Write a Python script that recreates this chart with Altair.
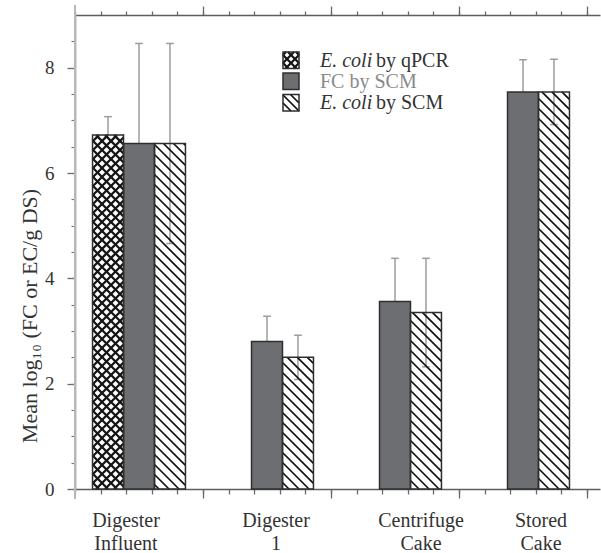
import altair as alt
import numpy as np
import pandas as pd

# ---- data -------------------------------------------------------------
sites = ["Digester Influent", "Digester 1", "Centrifuge Cake", "Stored Cake"]
site_lines = [["Digester", "Influent"], ["Digester", "1"], ["Centrifuge", "Cake"], ["Stored", "Cake"]]
methods = ["E. coli by qPCR", "FC by SCM", "E. coli by SCM"]

# mean log10 (FC or EC / g DS) and standard deviation; None = not measured
qpcr_mean = [6.72, None, None, None]
qpcr_sd = [0.35, None, None, None]
fc_mean = [6.56, 2.80, 3.56, 7.54]
fc_sd = [1.90, 0.48, 0.82, 0.61]
ec_mean = [6.56, 2.50, 3.35, 7.54]
ec_sd = [1.90, 0.42, 1.03, 0.62]

y_major = [0, 2, 4, 6, 8]

# ---- geometry & style ---------------------------------------------------
W, H = 525, 474
X_MAX = W / 128.0
Y_MAX = 9.0
PX_X = W / X_MAX
PX_Y = H / Y_MAX
BAR_W = 0.242
SERIF = "Liberation Serif"
INK = "#2e2e2e"
FC_FILL = "#6d6e72"
ERR = "#9c9c9c"
AX = "#5e5e5e"
SPINE = "#b8b8b8"

rows = []
for j, (means, sds) in enumerate([(qpcr_mean, qpcr_sd), (fc_mean, fc_sd), (ec_mean, ec_sd)]):
    for i, site in enumerate(sites):
        if means[i] is None:
            continue
        xc = i + 0.5 + (j - 1) * BAR_W
        rows.append(dict(site=site, method=methods[j], mean=means[i], sd=sds[i],
                         xc=xc, x0=xc - BAR_W / 2, x1=xc + BAR_W / 2,
                         lo=means[i] - sds[i], hi=means[i] + sds[i], zero=0.0,
                         c0=xc - 0.03, c1=xc + 0.03))
bars = pd.DataFrame(rows)


def hatch(x0, x1, y0, y1, step, direction):
    """Diagonal line segments filling a rectangle given in data units."""
    px0, px1 = x0 * PX_X, x1 * PX_X
    ptop, pbot = H - y1 * PX_Y, H - y0 * PX_Y
    segs = []
    if direction == "down":  # "\" lines: py = px + c
        cmin, cmax = ptop - px1, pbot - px0
        k = np.ceil(cmin / step)
        while k * step < cmax:
            c = k * step
            a, b = max(px0, ptop - c), min(px1, pbot - c)
            if b > a + 0.3:
                segs.append((a, a + c, b, b + c))
            k += 1
    else:  # "/" lines: py = c - px
        cmin, cmax = ptop + px0, pbot + px1
        k = np.ceil(cmin / step)
        while k * step < cmax:
            c = k * step
            a, b = max(px0, c - pbot), min(px1, c - ptop)
            if b > a + 0.3:
                segs.append((a, c - a, b, c - b))
            k += 1
    return [dict(x=a / PX_X, y=(H - pa) / PX_Y, x2=b / PX_X, y2=(H - pb) / PX_Y)
            for a, pa, b, pb in segs]


# legend boxes (pixel layout inside the plot area -> data units)
leg_left, leg_w, leg_h = 208, 16, 16.5
leg_tops = [37, 58, 79.5]
legend = pd.DataFrame([
    dict(method=m, x0=leg_left / PX_X, x1=(leg_left + leg_w) / PX_X,
         y1=(H - t) / PX_Y, y0=(H - t - leg_h) / PX_Y)
    for m, t in zip(methods, leg_tops)
])

# pattern strokes for the qPCR (cross-hatch) and E. coli SCM (diagonal) boxes
diag, cross = [], []
for r in bars.itertuples():
    if r.method == methods[2]:
        diag += hatch(r.x0, r.x1, 0.0, r.mean, 10.0, "down")
    elif r.method == methods[0]:
        cross += hatch(r.x0, r.x1, 0.0, r.mean, 9.0, "down") + hatch(r.x0, r.x1, 0.0, r.mean, 9.0, "up")
for r in legend.itertuples():
    if r.method == methods[2]:
        diag += hatch(r.x0, r.x1, r.y0, r.y1, 8.0, "down")
    elif r.method == methods[0]:
        cross += hatch(r.x0, r.x1, r.y0, r.y1, 8.0, "down") + hatch(r.x0, r.x1, r.y0, r.y1, 8.0, "up")
diag = pd.DataFrame(diag)
cross = pd.DataFrame(cross)

xs = alt.Scale(domain=[0, X_MAX], nice=False, zero=False)
ys = alt.Scale(domain=[0, Y_MAX], nice=False, zero=False)

x_minor = [round(v, 1) for v in np.arange(0, X_MAX, 0.2)]
x_major = [1, 2, 3, 4]
y_minor = [v / 2 for v in range(0, 18)]

common_x = dict(labels=False, title=None, grid=False, tickColor="#6a6a6a", tickWidth=1.3)
ax_bottom_major = alt.Axis(orient="bottom", values=x_major, tickSize=9, domain=False, **common_x)
ax_bottom_minor = alt.Axis(orient="bottom", values=x_minor, tickSize=5,
                           domainColor=AX, domainWidth=1.5, **common_x)
ax_top_major = alt.Axis(orient="top", values=x_major, tickSize=9, domain=False, **common_x)
ax_top_minor = alt.Axis(orient="top", values=x_minor, tickSize=4,
                        domainColor=AX, domainWidth=1.5, **common_x)

ax_left_major = alt.Axis(
    orient="left", values=y_major, tickSize=8, title=None, grid=False,
    tickColor="#6a6a6a", tickWidth=1.3, domainColor=SPINE, domainWidth=2,
    labelFont=SERIF, labelFontSize=19, labelColor="#333333", labelPadding=13,
)
ax_left_minor = alt.Axis(
    orient="left", values=y_minor, tickSize=4, title=None, grid=False, labels=False,
    tickColor="#7a7a7a", tickWidth=1.2, domain=False,
)


def X(field, axis=None):
    return alt.X(field, type="quantitative", scale=xs, axis=axis)


def Y(field, axis=None):
    return alt.Y(field, type="quantitative", scale=ys, axis=axis)


# the left spine runs a little past both horizontal axes
spine = alt.Chart(pd.DataFrame(dict(x=[0.0], lo=[-10 / PX_Y], hi=[Y_MAX + 10 / PX_Y]))).mark_rule(
    color=SPINE, strokeWidth=2).encode(x=X("x"), y=Y("lo"), y2="hi")

# error bars, drawn first so solid fills hide their lower halves
err = alt.Chart(bars).mark_rule(color=ERR, strokeWidth=1.5).encode(
    x=X("xc", ax_top_major), y=Y("lo", ax_left_major), y2="hi")
caps_hi = alt.Chart(bars).mark_rule(color=ERR, strokeWidth=1.5).encode(
    x=X("c0", ax_top_minor), x2="c1", y=Y("hi", ax_left_minor))
caps_lo = alt.Chart(bars).mark_rule(color=ERR, strokeWidth=1.5).encode(
    x=X("c0", ax_bottom_minor), x2="c1", y=Y("lo"))

fill_fc = alt.Chart(bars[bars.method == methods[1]]).mark_rect(color=FC_FILL).encode(
    x=X("x0"), x2="x1", y=Y("mean"), y2="zero")
fill_q = alt.Chart(bars[bars.method == methods[0]]).mark_rect(color="white").encode(
    x=X("x0"), x2="x1", y=Y("mean"), y2="zero")

leg_fill = alt.Chart(legend).mark_rect().encode(
    x=X("x0"), x2="x1", y=Y("y0"), y2="y1",
    color=alt.Color("method:N", scale=alt.Scale(domain=methods, range=["white", FC_FILL, "white"]),
                    legend=None))

diag_lines = alt.Chart(diag).mark_rule(color="#111111", strokeWidth=1.7).encode(
    x=X("x"), x2="x2", y=Y("y"), y2="y2")
cross_lines = alt.Chart(cross).mark_rule(color="#151515", strokeWidth=2.3).encode(
    x=X("x"), x2="x2", y=Y("y"), y2="y2")

outline = alt.Chart(bars).mark_rect(fillOpacity=0, stroke=INK, strokeWidth=1.5).encode(
    x=X("x0", ax_bottom_major), x2="x1", y=Y("mean"), y2="zero")
leg_outline = alt.Chart(legend).mark_rect(fillOpacity=0, stroke=INK, strokeWidth=1.5).encode(
    x=X("x0"), x2="x1", y=Y("y0"), y2="y1")

# legend text: italic species name followed by the regular part
leg_text_x = 245
leg_rows = pd.DataFrame(dict(
    ital=["E. coli", "", "E. coli"],
    rest=["by qPCR", "FC by SCM", "by SCM"],
    color=["#333333", "#8a8a8a", "#333333"],
    xi=[leg_text_x / PX_X] * 3,
    xr=[(leg_text_x + 56) / PX_X, leg_text_x / PX_X, (leg_text_x + 56) / PX_X],
    y=[(H - t - leg_h / 2 - 0.5) / PX_Y for t in leg_tops],
))
leg_ital = alt.Chart(leg_rows).mark_text(
    font=SERIF, fontSize=20, fontStyle="italic", align="left", baseline="middle"
).encode(x=X("xi"), y=Y("y"), text="ital:N", color=alt.Color("color:N", scale=None))
leg_reg = alt.Chart(leg_rows).mark_text(
    font=SERIF, fontSize=20, align="left", baseline="middle"
).encode(x=X("xr"), y=Y("y"), text="rest:N", color=alt.Color("color:N", scale=None))

# category labels under the axis
label_dx = [-13, 9, 26, 18]
cat = pd.DataFrame(dict(
    lines=site_lines,
    x=[(i + 0.5) + dx / PX_X for i, dx in enumerate(label_dx)],
    y=[-(527 - 15 - H) / PX_Y] * 4,
))
cat_text = alt.Chart(cat).mark_text(
    font=SERIF, fontSize=20, color="#333333", align="center", baseline="alphabetic", lineHeight=23
).encode(x=X("x"), y=Y("y"), text="lines")

ytitle = alt.Chart(pd.DataFrame(dict(t=["Mean log\u2081\u2080 (FC or EC/g DS)"],
                                     x=[-45 / PX_X], y=[(H - 301) / PX_Y]))).mark_text(
    font=SERIF, fontSize=22, color="#333333", angle=270, align="center", baseline="middle"
).encode(x=X("x"), y=Y("y"), text="t")

chart = alt.layer(
    spine, err, caps_hi, caps_lo, fill_fc, fill_q, leg_fill, diag_lines, cross_lines,
    outline, leg_outline, leg_ital, leg_reg, cat_text, ytitle,
).resolve_axis(x="independent", y="independent").properties(
    width=W, height=H,
    autosize=alt.AutoSizeParams(type="none"),
    padding={"left": 75, "top": 15, "right": 1, "bottom": 64},
    background="white",
).configure_view(stroke=None)

chart.save("out.html", embed_options={"renderer": "svg", "actions": False})
